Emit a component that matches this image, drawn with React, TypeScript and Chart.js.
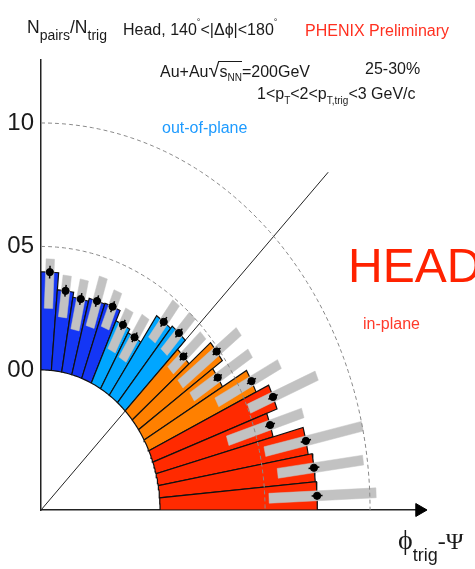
import React, { useEffect, useRef } from "react";
import { Chart, registerables } from "chart.js";

Chart.register(...registerables);

// ---- data ----
// bin centres of phi_trig - Psi, in degrees (5 degree bins, in-plane first)
const binCentersDeg = [2.5, 7.5, 12.5, 17.5, 22.5, 27.5, 32.5, 37.5, 42.5, 47.5, 52.5, 57.5, 62.5, 67.5, 72.5, 77.5, 82.5, 87.5];
// Npairs/Ntrig per bin
const yields = [0.749, 0.744, 0.725, 0.577, 0.629, 0.563, 0.431, 0.487, 0.353, 0.405, 0.393, 0.262, 0.278, 0.324, 0.32, 0.308, 0.328, 0.397];
// statistical errors
const statErr = [0.026, 0.026, 0.025, 0.024, 0.024, 0.024, 0.023, 0.023, 0.023, 0.024, 0.024, 0.023, 0.023, 0.024, 0.024, 0.024, 0.024, 0.026];
// systematic band (low / high edge)
const sysLow = [0.52, 0.57, 0.525, 0.365, 0.505, 0.377, 0.286, 0.27, 0.27, 0.3, 0.3, 0.155, 0.16, 0.23, 0.21, 0.18, 0.22, 0.25];
const sysHigh = [1.03, 0.98, 1.0, 0.74, 0.854, 0.713, 0.614, 0.62, 0.48, 0.5, 0.49, 0.36, 0.345, 0.39, 0.42, 0.387, 0.39, 0.45];
// radial tick values and their labels
const tickValues = [0, 0.5, 1.0];
const tickLabels = ["00", "05", "10"];
// dashed reference circles
const refCircles = [0.5, 1.0];

// ---- styles / geometry ----
const BIN_WIDTH = 5;
const HOLE = 0.567; // empty inner radius, in value units
const X_MAX = 1.8286;
const Y_MAX = 1.8219;
const DIAGONAL_END = 1.367;
const GREY_HALF = 0.02;
const binColors = [
  "#ff2a00", "#ff2a00", "#ff2a00", "#ff2a00", "#ff2a00",
  "#ff8000", "#ff8000", "#ff8000", "#ff8000",
  "#00a6ff", "#00a6ff", "#00a6ff", "#00a6ff",
  "#1436f5", "#1436f5", "#1436f5", "#1436f5", "#1436f5",
];

const rad = (d: number) => (d * Math.PI) / 180;
const toXY = (deg: number, v: number) => ({
  x: (HOLE + v) * Math.cos(rad(deg)),
  y: (HOLE + v) * Math.sin(rad(deg)),
});

function wedgePoints(c: number, v: number) {
  const a1 = c - BIN_WIDTH / 2;
  const a2 = c + BIN_WIDTH / 2;
  const n = 6;
  const pts: { x: number; y: number }[] = [];
  for (let k = 0; k <= n; k++) pts.push(toXY(a1 + ((a2 - a1) * k) / n, 0));
  for (let k = n; k >= 0; k--) pts.push(toXY(a1 + ((a2 - a1) * k) / n, v));
  pts.push(pts[0]);
  return pts;
}

function boxPoints(c: number, lo: number, hi: number) {
  const dx = Math.cos(rad(c));
  const dy = Math.sin(rad(c));
  const px = -dy * GREY_HALF;
  const py = dx * GREY_HALF;
  const r1 = HOLE + lo;
  const r2 = HOLE + hi;
  const p0 = { x: r1 * dx + px, y: r1 * dy + py };
  return [
    p0,
    { x: r2 * dx + px, y: r2 * dy + py },
    { x: r2 * dx - px, y: r2 * dy - py },
    { x: r1 * dx - px, y: r1 * dy - py },
    p0,
  ];
}

function arcPoints(v: number) {
  const pts: { x: number; y: number }[] = [];
  for (let k = 0; k <= 90; k++) pts.push(toXY(90 - k, v));
  return pts;
}

function PolarChart() {
  const ref = useRef<HTMLCanvasElement | null>(null);
  useEffect(() => {
    if (!ref.current) return;
    const datasets: any[] = [];
    // points
    datasets.push({
      data: binCentersDeg.map((c, i) => toXY(c, yields[i])),
      showLine: false,
      pointRadius: 3.6,
      pointBackgroundColor: "#000",
      pointBorderColor: "#000",
      order: 0,
    });
    // error bars
    binCentersDeg.forEach((c, i) => {
      datasets.push({
        data: [toXY(c, yields[i] - statErr[i]), toXY(c, yields[i] + statErr[i])],
        showLine: true,
        borderColor: "#000",
        borderWidth: 1.5,
        pointRadius: 0,
        order: 1,
      });
    });
    // dashed circles
    refCircles.forEach((v) => {
      datasets.push({
        data: arcPoints(v),
        showLine: true,
        borderColor: "#8a8a8a",
        borderWidth: 1,
        borderDash: [4, 3],
        pointRadius: 0,
        order: 2,
      });
    });
    // systematic boxes
    binCentersDeg.forEach((c, i) => {
      datasets.push({
        data: boxPoints(c, sysLow[i], sysHigh[i]),
        showLine: true,
        fill: "shape",
        backgroundColor: "#c2c2c2",
        borderColor: "#c2c2c2",
        borderWidth: 0.5,
        pointRadius: 0,
        order: 3,
      });
    });
    // wedges
    binCentersDeg.forEach((c, i) => {
      datasets.push({
        data: wedgePoints(c, yields[i]),
        showLine: true,
        fill: "shape",
        backgroundColor: binColors[i],
        borderColor: "#111",
        borderWidth: 1.2,
        pointRadius: 0,
        order: 4,
      });
    });
    // diagonal 45 degree line
    datasets.push({
      data: [{ x: 0, y: 0 }, toXY(45, DIAGONAL_END)],
      showLine: true,
      borderColor: "#222",
      borderWidth: 1,
      pointRadius: 0,
      order: 5,
    });
    // axis arrow head
    datasets.push({
      data: [{ x: X_MAX - 0.026, y: 0 }],
      showLine: false,
      pointStyle: "triangle",
      rotation: 90,
      pointRadius: 7.5,
      pointBackgroundColor: "#000",
      pointBorderColor: "#000",
      clip: false,
      order: 0,
    });

    const chart = new Chart(ref.current, {
      type: "scatter",
      data: { datasets },
      options: {
        animation: false,
        responsive: false,
        events: [],
        layout: { padding: { top: 60, right: 50, left: 0, bottom: 0 } },
        plugins: {
          legend: { display: false },
          tooltip: { enabled: false },
        },
        scales: {
          x: {
            type: "linear",
            min: 0,
            max: X_MAX,
            grid: { display: false, drawTicks: false },
            ticks: { display: false },
            border: { display: true, color: "#222", width: 1.5 },
            afterFit: (s: any) => {
              s.height = 59;
            },
          },
          y: {
            type: "linear",
            min: 0,
            max: Y_MAX,
            grid: { display: false, drawTicks: false },
            border: { display: true, color: "#222", width: 1.5 },
            afterBuildTicks: (s: any) => {
              s.ticks = tickValues.map((v) => ({ value: HOLE + v }));
            },
            ticks: {
              padding: 7,
              color: "#1a1a1a",
              font: { family: "'Liberation Sans Narrow', 'Liberation Sans', Arial", size: 24 },
              callback: (_v: any, i: number) => tickLabels[i],
            },
            afterFit: (s: any) => {
              s.width = 41;
            },
          },
        },
      } as any,
    });
    return () => chart.destroy();
  }, []);
  return <canvas ref={ref} width={475} height={569} style={{ position: "absolute", left: 0, top: 0 }} />;
}

const sans = "'Liberation Sans', Arial, sans-serif";
const serif = "'Liberation Serif', 'Times New Roman', serif";

function Label(props: { left: number; top: number; size: number; color?: string; family?: string; children: any }) {
  return (
    <div
      style={{
        position: "absolute",
        left: props.left,
        top: props.top,
        fontSize: props.size,
        lineHeight: 1,
        fontFamily: props.family || sans,
        color: props.color || "#1a1a1a",
        whiteSpace: "nowrap",
      }}
    >
      {props.children}
    </div>
  );
}

const sub = (size: number, drop: number) => ({ fontSize: size, verticalAlign: `-${drop}px`, lineHeight: 1 });
const sup = (size: number, rise: number) => ({ fontSize: size, verticalAlign: `${rise}px`, lineHeight: 1 });

export default function App() {
  return (
    <div style={{ position: "absolute", left: 0, top: 0, width: 475, height: 569, background: "#fff", overflow: "hidden" }}>
      <PolarChart />
      <Label left={27} top={19} size={17.5}>
        N<span style={sub(14, 7)}>pairs</span>/N<span style={sub(14, 7)}>trig</span>
      </Label>
      <Label left={123} top={18} size={16}>
        Head, 140<span style={sup(9, 10)}>°</span>&lt;|Δϕ|&lt;180<span style={sup(9, 10)}>°</span>
      </Label>
      <Label left={305} top={23} size={16} color="#ff3020">
        PHENIX Preliminary
      </Label>
      <Label left={160} top={60} size={16}>
        Au+Au<span style={{ fontSize: 20 }}>√</span>
        <span style={{ borderTop: "1px solid #1a1a1a", paddingTop: 1 }}>
          s<span style={sub(10, 4)}>NN</span>
        </span>
        =200GeV
      </Label>
      <Label left={365} top={61} size={16}>
        25-30%
      </Label>
      <Label left={257} top={86} size={16}>
        1&lt;p<span style={sub(10, 5)}>T</span>&lt;2&lt;p<span style={sub(10, 5)}>T,trig</span>&lt;3 GeV/c
      </Label>
      <Label left={162} top={120} size={16} color="#1e9bff">
        out-of-plane
      </Label>
      <Label left={348} top={242} size={48} color="#ff2200">
        HEAD
      </Label>
      <Label left={363} top={316} size={16} color="#ff3a2a">
        in-plane
      </Label>
      <Label left={398} top={526} size={28} family={serif}>
        ϕ<span style={{ fontFamily: sans, fontSize: 18, verticalAlign: "-12px" }}>trig</span>
        <span style={{ fontSize: 24 }}>-Ψ</span>
      </Label>
    </div>
  );
}
